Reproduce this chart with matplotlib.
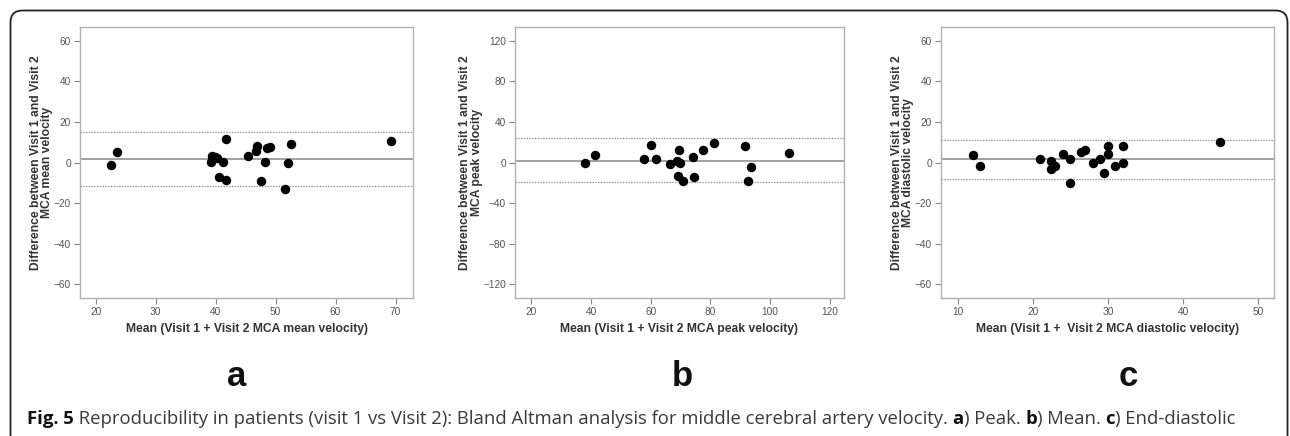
import matplotlib
matplotlib.use("Agg")
import matplotlib.pyplot as plt
from matplotlib.patches import FancyBboxPatch

W, H = 1290, 436

# Panel a: MCA mean velocity
mean_x = [22.6, 23.6, 39.2, 39.4, 39.9, 40.3, 41.3, 40.5, 41.8, 41.8, 45.4,
          46.7, 46.9, 47.6, 48.3, 48.5, 49.1, 51.6, 52.0, 52.6, 69.3]
mean_y = [-1.0, 5.0, 0.4, 3.4, 2.5, 2.4, 0.4, -7.0, 11.4, -8.6, 3.0,
          5.5, 8.1, -9.1, 0.4, 7.0, 7.8, -13.0, 0.0, 9.0, 10.4]
mean_lines = [1.7, 15.2, -11.6]

# Panel b: MCA peak velocity
peak_x = [37.9, 41.3, 57.7, 60.2, 61.7, 66.6, 68.7, 69.1, 69.6, 69.8, 70.7,
          74.2, 74.6, 77.6, 81.2, 91.5, 92.5, 93.5, 106.3]
peak_y = [0.0, 7.0, 3.8, 17.0, 3.8, -1.8, 1.8, -13.0, 12.0, 0.0, -18.5,
          5.0, -14.0, 12.0, 19.0, 16.0, -18.0, -4.0, 9.7]
peak_lines = [1.8, 24.5, -19.5]

# Panel c: MCA diastolic velocity
dia_x = [12.0, 12.9, 20.9, 22.4, 22.4, 22.9, 23.9, 24.9, 24.9, 26.4, 26.9,
         27.9, 28.9, 29.4, 29.9, 29.9, 30.9, 31.9, 31.9, 44.9]
dia_y = [3.9, -1.9, 1.9, 0.9, -3.2, -1.9, 4.0, 1.9, -10.0, 5.0, 6.0,
         0.0, 1.9, -5.0, 8.0, 4.0, -1.9, 8.0, 0.0, 10.0]
dia_lines = [1.6, 11.1, -8.0]

panels = [
    dict(x=mean_x, y=mean_y, lines=mean_lines, left=80, right=413,
         xlim=(17.4, 72.9), xticks=[20, 30, 40, 50, 60, 70],
         ylim=(-66.7, 66.7), yticks=[-60, -40, -20, 0, 20, 40, 60],
         ylabel="Difference between Visit 1 and Visit 2\nMCA mean velocity",
         xlabel="Mean (Visit 1 + Visit 2 MCA mean velocity)", letter="a", lx=237),
    dict(x=peak_x, y=peak_y, lines=peak_lines, left=515, right=844,
         xlim=(14.5, 124.8), xticks=[20, 40, 60, 80, 100, 120],
         ylim=(-133.4, 133.4), yticks=[-120, -80, -40, 0, 40, 80, 120],
         ylabel="Difference between Visit 1 and Visit 2\nMCA peak velocity",
         xlabel="Mean (Visit 1 + Visit 2 MCA peak velocity)", letter="b", lx=682),
    dict(x=dia_x, y=dia_y, lines=dia_lines, left=941, right=1274,
         xlim=(7.7, 52.1), xticks=[10, 20, 30, 40, 50],
         ylim=(-66.7, 66.7), yticks=[-60, -40, -20, 0, 20, 40, 60],
         ylabel="Difference between Visit 1 and Visit 2\nMCA diastolic velocity",
         xlabel="Mean (Visit 1 +  Visit 2 MCA diastolic velocity)", letter="c", lx=1128),
]

plt.rcParams['font.family'] = ['Liberation Sans', 'DejaVu Sans']
fig = plt.figure(figsize=(W / 100, H / 100), dpi=100)

# background axes in pixel units for the rounded frame
bg = fig.add_axes([0, 0, 1, 1])
bg.set_xlim(0, W)
bg.set_ylim(H, 0)
bg.axis("off")
bg.add_patch(FancyBboxPatch((10.5, 10.5), 1277, 440,
                            boxstyle="round,pad=0,rounding_size=12",
                            fill=False, edgecolor="#222222", linewidth=1.3))

top, bottom = 27, 298
for p in panels:
    ax = fig.add_axes([p["left"] / W, 1 - bottom / H,
                       (p["right"] - p["left"]) / W, (bottom - top) / H])
    ax.plot(p["x"], p["y"], "o", color="black", markersize=5.8, zorder=3)
    ax.axhline(p["lines"][0], color="#9a9a9a", linewidth=1.3, zorder=2)
    ax.axhline(p["lines"][1], color="#9a9a9a", linewidth=0.9, linestyle=(0, (1.2, 1)), zorder=2)
    ax.axhline(p["lines"][2], color="#9a9a9a", linewidth=0.9, linestyle=(0, (1.2, 1)), zorder=2)
    ax.set_xlim(*p["xlim"])
    ax.set_ylim(*p["ylim"])
    ax.set_xticks(p["xticks"])
    ax.set_yticks(p["yticks"])
    for s in ax.spines.values():
        s.set_color("#b0b0b0")
        s.set_linewidth(1.0)
    ax.tick_params(direction="out", length=4, width=0.8, color="#888888",
                   labelcolor="#555555", labelsize=7.3, pad=2.5)
    ax.set_xlabel(p["xlabel"], fontsize=8.7, fontweight="bold", color="#333333", labelpad=4)
    ax.set_ylabel(p["ylabel"], fontsize=8.7, fontweight="bold", color="#333333",
                  linespacing=0.95, labelpad=0.5)
    fig.text(p["lx"] / W, 1 - 376 / H, p["letter"], fontsize=25, fontweight="bold",
             ha="center", va="center", color="#111111")

# caption with mixed bold / regular pieces
pieces = [("Fig. 5", "bold"),
          (" Reproducibility in patients (visit 1 vs Visit 2): Bland Altman analysis for middle cerebral artery velocity. ", "normal"),
          ("a", "bold"), (") Peak. ", "normal"), ("b", "bold"), (") Mean. ", "normal"),
          ("c", "bold"), (") End-diastolic", "normal")]
renderer = fig.canvas.get_renderer()
x = 27
for txt, wt in pieces:
    t = bg.text(x, 424, txt, fontsize=13.3, fontweight=wt, family="Open Sans",
                color="#111111" if wt == "bold" else "#3a3a3a", va="baseline", ha="left")
    bb = t.get_window_extent(renderer=renderer)
    x += bb.width

fig.savefig("out.png", dpi=100)
